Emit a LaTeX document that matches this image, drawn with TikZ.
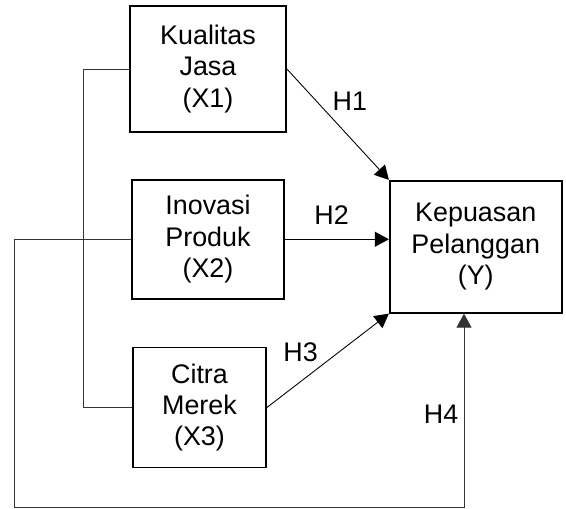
\documentclass[tikz,border=0pt]{standalone}
\usepackage{fontspec}
\setmainfont{Liberation Sans}
\usepackage{tikz}
\usetikzlibrary{arrows.meta,positioning}
\definecolor{lineCol}{HTML}{333333}

\begin{document}
\begin{tikzpicture}[every node/.style={font=\fontsize{15.3}{17.8}\selectfont}]
  \tikzset{bx/.style n args={2}{draw,line width=1pt,align=center,inner sep=0pt,
        minimum width=#1,minimum height=#2},
        hyp/.style={-{Triangle[length=0.28cm,width=0.3cm]},line width=0.5pt},
        lbl/.style={inner sep=2pt}}
  \useasboundingbox (0,0) rectangle (11.32,-10.16);
  \node[bx={3.12cm}{2.52cm}] (kj) at (4.16,-1.38) {Kualitas\\Jasa\\(X1)};
  \node[bx={3.04cm}{2.38cm}, below=0.92cm of kj] (ip) {Inovasi\\Produk\\(X2)};
  \node[bx={2.66cm}{2.40cm}, below=0.94cm of ip, xshift=-0.17cm] (cm) {Citra\\Merek\\(X3)};
  \node[bx={3.44cm}{2.64cm}, right=2.08cm of ip, yshift=-0.15cm] (kp) {Kepuasan\\Pelanggan\\(Y)};
  \coordinate (lo) at (0.28,-10.14);
  \coordinate (hp) at (9.28,-10.14);
  \draw[hyp] (kj.east) -- (kp.north west) node[lbl,pos=0.41,above right]{H1};
  \draw[hyp] (ip.east) -- (ip.east -| kp.west) node[lbl,pos=0.45,above=6pt]{H2};
  \draw[hyp] (cm.east) -- (kp.south west) node[lbl,pos=0.45,above left]{H3};
  \draw[line width=0.5pt,lineCol] (kj.west) -- ++(-0.92,0) |- (cm.west);
  \draw[hyp,lineCol] (ip.west) -| (lo) -- (hp) -- (hp |- kp.south)
        node[lbl,pos=0.48,left=1pt,black]{H4};
\end{tikzpicture}
\end{document}
